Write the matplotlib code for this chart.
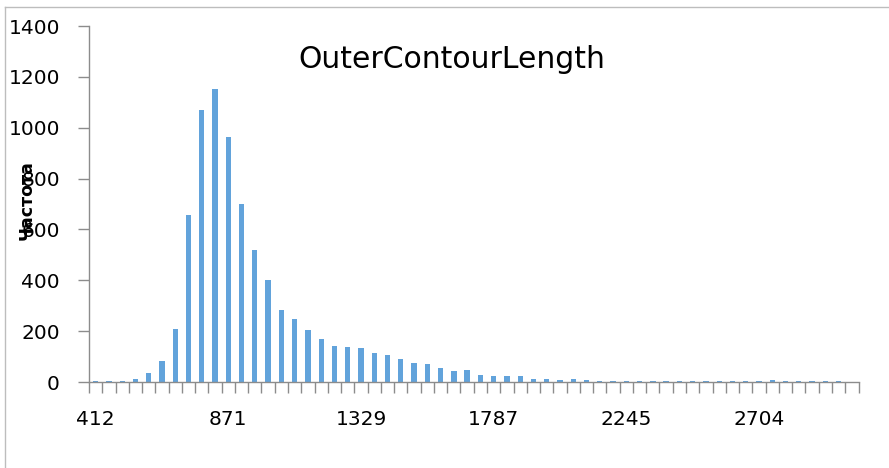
import matplotlib.pyplot as plt
from matplotlib.lines import Line2D

# histogram counts per bin (Excel style, one bar per bin)
counts = [3, 2, 5, 10, 36, 84, 210, 655, 1070, 1152,
          965, 700, 518, 403, 282, 249, 204, 171, 140, 136,
          134, 113, 108, 90, 75, 69, 57, 42, 49, 29,
          25, 25, 25, 12, 11, 8, 11, 7, 3, 5,
          3, 5, 2, 2, 2, 2, 5, 5, 2, 2,
          2, 8, 5, 2, 4, 2, 4, 1]
# only every 10th bin is labelled on the axis
tick_labels = ['412', '871', '1329', '1787', '2245', '2704']
label_step = 10
y_ticks = [0, 200, 400, 600, 800, 1000, 1200, 1400]

title = 'OuterContourLength'
ylabel = 'Частота'

bar_color = '#62A3DB'
axis_color = '#8C8C8C'

plt.rcParams['font.family'] = ['DejaVu Sans']

fig = plt.figure(figsize=(8.89, 4.68), dpi=100)
ax = fig.add_axes([89 / 889, 1 - 382 / 468, (858.5 - 89) / 889, (382 - 26) / 468])

n = len(counts)
ax.bar(range(n), counts, width=0.4, color=bar_color, edgecolor='none')

ax.set_xlim(-0.5, n - 0.5)
ax.set_ylim(0, 1400)

for s in ['top', 'right']:
    ax.spines[s].set_visible(False)
for s in ['left', 'bottom']:
    ax.spines[s].set_color(axis_color)
    ax.spines[s].set_linewidth(1)

# tick marks at bin boundaries, labels at every 10th bin centre
ax.set_xticks([i - 0.5 for i in range(n + 1)])
ax.set_xticklabels([])
ax.tick_params(axis='x', which='major', length=8, width=1, color=axis_color, direction='out')
ax.set_xticks([i * label_step for i in range(len(tick_labels))], minor=True)
ax.set_xticklabels(tick_labels, minor=True, fontsize=14.5)
ax.tick_params(axis='x', which='minor', length=0, pad=20)

ax.set_yticks(y_ticks)
ax.set_yticklabels([str(v) for v in y_ticks], fontsize=14.5)
ax.tick_params(axis='y', length=8, width=1, color=axis_color, direction='out', pad=13)

fig.text(451.5 / 889, 1 - 68 / 468, title, fontsize=21.5, ha='center', va='baseline')
fig.text(27 / 889, 1 - 200 / 468, ylabel, fontsize=12.5, fontweight='bold',
         rotation=90, ha='center', va='center')

# chart area border (cropped at right and bottom)
fig.add_artist(Line2D([5 / 889, 1], [1 - 7 / 468, 1 - 7 / 468], color='#BDBDBD', lw=1,
                      transform=fig.transFigure))
fig.add_artist(Line2D([5 / 889, 5 / 889], [0, 1 - 7 / 468], color='#BDBDBD', lw=1,
                      transform=fig.transFigure))

fig.savefig('out.png', dpi=100)
